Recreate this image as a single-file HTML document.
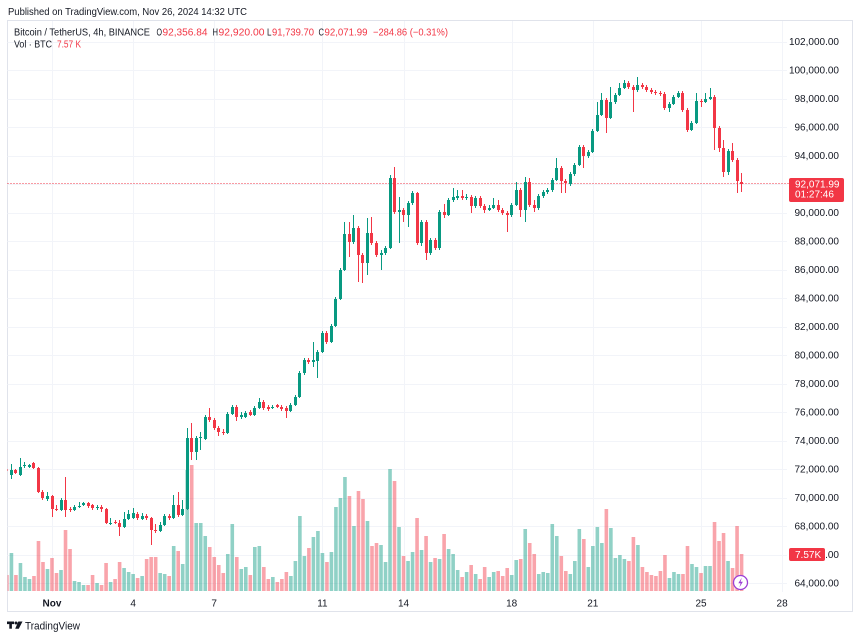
<!DOCTYPE html>
<html><head><meta charset="utf-8">
<style>
html,body{margin:0;padding:0;background:#fff;width:860px;height:639px;overflow:hidden}
svg{display:block;font-family:"Liberation Sans",sans-serif}
</style></head>
<body>
<svg id="s" width="860" height="639" viewBox="0 0 860 639" xmlns="http://www.w3.org/2000/svg">
<defs><clipPath id="cp"><rect x="7.5" y="21" width="780" height="571"/></clipPath></defs>
<rect width="860" height="639" fill="#fff"/>
<text x="8" y="15" font-size="10.5" fill="#131722" textLength="239" lengthAdjust="spacingAndGlyphs">Published on TradingView.com, Nov 26, 2024 14:32 UTC</text>
<rect x="7.5" y="20.5" width="845" height="591" fill="none" stroke="#e0e3eb"/>
<g id="grid"></g>
<g id="gv" clip-path="url(#cp)"></g>
<line x1="7.5" y1="183.5" x2="789" y2="183.5" stroke="#F23645" stroke-width="1" stroke-dasharray="1,2"/>
<g id="gc" clip-path="url(#cp)"></g>
<g font-size="10" fill="#131722">
<text x="14" y="35.5" textLength="136" lengthAdjust="spacingAndGlyphs">Bitcoin / TetherUS, 4h, BINANCE</text>
<text x="156.5" y="35.5" textLength="5.5" lengthAdjust="spacingAndGlyphs">O</text><text x="162.5" y="35.5" fill="#F23645" textLength="45" lengthAdjust="spacingAndGlyphs">92,356.84</text>
<text x="212.5" y="35.5" textLength="5.5" lengthAdjust="spacingAndGlyphs">H</text><text x="218.5" y="35.5" fill="#F23645" textLength="46" lengthAdjust="spacingAndGlyphs">92,920.00</text>
<text x="267" y="35.5" textLength="4.5" lengthAdjust="spacingAndGlyphs">L</text><text x="272" y="35.5" fill="#F23645" textLength="42" lengthAdjust="spacingAndGlyphs">91,739.70</text>
<text x="318.5" y="35.5" textLength="5.5" lengthAdjust="spacingAndGlyphs">C</text><text x="324.5" y="35.5" fill="#F23645" textLength="43" lengthAdjust="spacingAndGlyphs">92,071.99</text>
<text x="373" y="35.5" fill="#F23645" textLength="75" lengthAdjust="spacingAndGlyphs">−284.86 (−0.31%)</text>
<text x="14" y="47.5" textLength="38" lengthAdjust="spacingAndGlyphs">Vol · BTC</text>
<text x="57" y="47.5" fill="#F23645" textLength="24" lengthAdjust="spacingAndGlyphs">7.57 K</text>
</g>
<g id="axis" font-size="10" fill="#131722"></g>
<rect x="789" y="178" width="55" height="24" rx="2" fill="#F23645"/>
<text x="795" y="187.5" font-size="10" fill="#fff">92,071.99</text>
<text x="795" y="197.5" font-size="10" fill="#fff">01:27:46</text>
<rect x="789" y="548" width="36" height="13" rx="2" fill="#F23645"/>
<text x="795" y="558" font-size="10" fill="#fff">7.57K</text>
<circle cx="740.5" cy="582.5" r="7" fill="#fff" stroke="#9c3fd6" stroke-width="1.3"/>
<path d="M741.8 577.6 L738.3 583.2 L740.6 583.2 L739.4 587.4 L742.9 581.8 L740.6 581.8 Z" fill="#9c3fd6"/>
<g fill="#131722">
<rect x="7" y="621.5" width="7" height="2.6"/>
<rect x="9.3" y="621.5" width="2.6" height="7.2"/>
<circle cx="16" cy="623" r="1.5"/>
<polygon points="18.3,621.5 22.5,621.5 18.8,628.7 15.2,628.7"/>
</g>
<text x="25" y="629.5" font-size="11" fill="#131722" textLength="55" lengthAdjust="spacingAndGlyphs">TradingView</text>
</svg>
<script>
const D=[
[469,471,467,472,575],[475,470,464,479,553],[470,473,469,474,575],[475,467,458,476,563],[466,465,462,468,577],
[467,465,464,468,579],[463,468,462,469,576],[468,492,467,493,541],[492,498,490,500,562],[499,496,492,501,569],
[496,509,495,517,558],[509,510,505,511,573],[510,500,498,511,570],[500,510,477,517,530],[509,510,507,512,549],
[510,507,505,511,581],[507,506,502,508,582],[505,503,502,506,585],[503,506,502,508,585],[505,508,504,510,575],
[508,507,505,510,583],[507,509,505,512,585],[509,523,508,524,563],[524,523,518,525,582],[522,523,520,524,579],
[523,527,520,536,562],[527,519,512,528,568],[519,514,510,520,572],[518,513,508,519,574],[514,518,512,520,578],
[519,516,513,520,576],[516,518,514,520,559],[518,530,517,545,557],[530,531,524,533,557],[531,525,522,532,573],
[525,516,514,526,574],[516,518,514,520,576],[518,505,495,519,546],[505,515,492,517,551],[515,509,500,516,564],
[509,438,428,510,470],[438,452,423,460,465],[452,438,436,460,523],[438,437,432,450,523],[439,417,415,440,536],
[417,420,408,422,547],[420,428,418,430,557],[428,432,426,436,565],[432,433,429,435,573],[433,414,412,434,554],
[414,407,405,415,524],[407,417,405,421,557],[417,415,412,419,569],[417,413,411,418,567],[412,415,410,416,575],
[415,408,406,416,547],[408,402,398,409,546],[402,408,400,410,567],[407,409,405,411,579],[408,407,405,409,577],
[405,407,404,408,582],[407,409,405,411,579],[408,411,406,418,572],[411,405,403,412,576],[405,397,395,406,561],
[397,373,371,398,516],[373,360,358,375,556],[360,362,358,364,548],[362,360,342,367,537],[361,352,350,378,531],
[352,333,331,353,553],[333,342,331,344,562],[342,326,324,343,552],[326,299,297,327,507],[299,270,268,300,498],
[270,234,222,271,477],[234,242,222,257,496],[242,228,215,244,526],[228,255,226,282,491],[255,263,253,283,499],
[263,233,218,275,521],[233,243,217,245,546],[243,255,241,257,543],[255,253,250,270,545],[253,248,246,255,562],
[248,178,175,249,469],[178,212,167,214,481],[212,210,197,243,527],[210,215,208,222,556],[215,203,201,227,561],
[203,193,191,205,552],[193,243,192,245,518],[243,222,220,246,550],[222,253,220,260,536],[253,240,238,255,562],
[240,248,238,250,558],[248,212,210,250,559],[212,215,204,218,534],[215,200,198,216,549],[200,197,188,202,554],
[198,196,190,200,570],[196,198,190,200,577],[198,197,194,200,572],[197,206,195,213,565],[206,198,196,208,574],
[198,206,196,208,579],[206,210,204,213,567],[210,208,205,211,577],[208,205,198,209,572],[205,210,200,212,571],
[210,213,208,215,576],[213,215,211,232,568],[215,205,203,217,575],[205,190,182,206,560],[190,210,188,217,559],
[210,182,177,222,529],[182,205,178,207,543],[205,208,200,212,554],[208,196,194,210,574],[196,192,190,198,572],
[192,190,188,194,573],[190,180,178,192,524],[180,168,158,181,536],[168,181,166,193,556],[181,183,179,193,571],
[184,174,172,186,574],[174,165,163,176,561],[165,147,145,166,529],[147,156,145,168,539],[156,152,150,158,567],
[152,131,129,153,546],[131,115,102,132,527],[115,100,93,116,543],[100,118,98,133,509],[118,102,87,119,528],
[102,95,93,104,558],[95,88,83,96,555],[88,83,80,89,559],[83,87,81,89,561],[87,90,85,112,537],
[90,85,77,92,545],[85,87,83,89,567],[87,90,85,92,572],[90,92,88,94,575],[92,93,90,95,576],
[93,94,91,96,571],[94,108,92,110,555],[108,104,102,112,578],[104,97,95,105,572],[97,93,91,98,574],
[93,110,91,112,574],[110,130,108,132,546],[130,123,121,131,564],[123,101,93,124,567],[101,102,99,107,573],
[102,99,93,103,566],[99,97,88,100,566],[97,128,95,150,522],[128,148,126,152,541],[148,172,140,177,533],
[172,151,149,175,561],[151,160,143,162,568],[160,181,158,193,526],[182,184,173,192,554]
];
const NS="http://www.w3.org/2000/svg";
function el(t,a,p){const e=document.createElementNS(NS,t);for(const k in a)e.setAttribute(k,a[k]);p.appendChild(e);return e;}
const grid=document.getElementById('grid'),gv=document.getElementById('gv'),gc=document.getElementById('gc'),ax=document.getElementById('axis');
for(let p=64000;p<=102000;p+=2000){
  const y=70+(100000-p)*0.01425;
  const yy=Math.round(y)+0.5;
  el('line',{x1:7.5,y1:yy,x2:787,y2:yy,stroke:'#f2f4f9','stroke-width':1},grid);
  const t=el('text',{x:839,y:(y+3.5).toFixed(1),'text-anchor':'end'},ax);
  t.textContent=p.toLocaleString('en-US')+'.00';
}
const days=[[1,'Nov'],[4,'4'],[7,'7'],[11,'11'],[14,'14'],[18,'18'],[21,'21'],[25,'25'],[28,'28']];
for(const [d,lab] of days){
  const x=52+(d-1)*27.04;
  const xx=Math.round(x)+0.5;
  el('line',{x1:xx,y1:21,x2:xx,y2:592,stroke:'#f2f4f9','stroke-width':1},grid);
  const a={x:x.toFixed(1),y:606.5,'text-anchor':'middle'};
  if(lab==='Nov')a['font-weight']='bold';
  const t=el('text',a,ax);t.textContent=lab;
}
const G='#089981',R='#F23645',GV='rgba(8,153,129,0.45)',RV='rgba(242,54,69,0.45)';
D.forEach((d,k)=>{
  const i=k-10;const X=52+i*4.507;
  const [o,c,h,l,v]=d;const up=c<o;
  el('rect',{x:(X-1.8).toFixed(2),y:v,width:3.6,height:591-v,fill:up?GV:RV},gv);
  const bx=Math.round(X-1.5);
  el('rect',{x:bx+1,y:h,width:1,height:Math.max(l-h,1),fill:up?G:R},gc);
  const top=Math.min(o,c),bh=Math.max(Math.abs(o-c),1);
  el('rect',{x:bx,y:top,width:3,height:bh,fill:up?G:R},gc);
});
</script>
</body></html>
